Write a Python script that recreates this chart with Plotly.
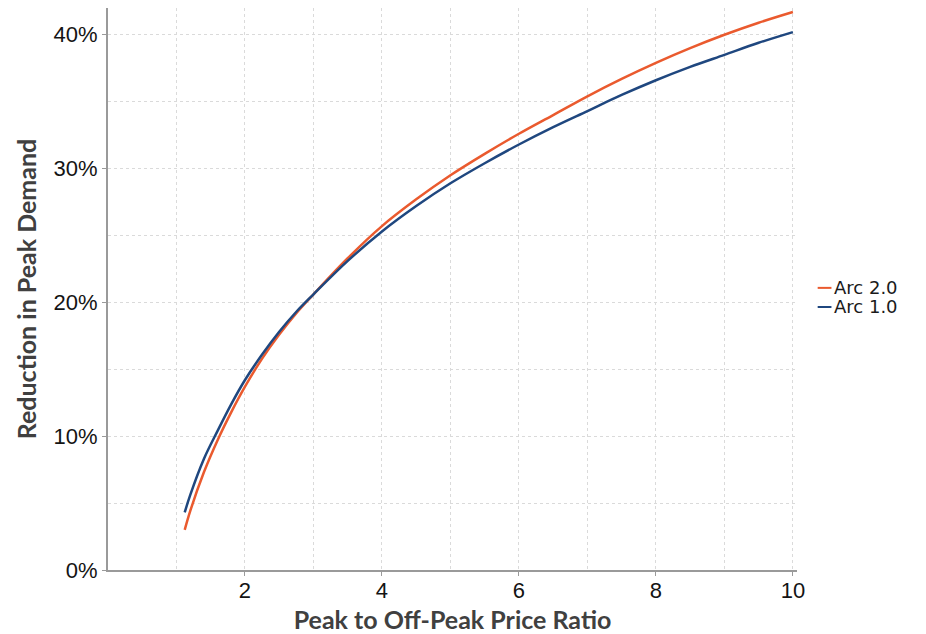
import plotly.graph_objects as go

# Peak-to-off-peak price ratio sampled along each curve
price_ratio = [1.12, 1.2, 1.4, 1.6, 1.8, 2.0, 2.25, 2.5, 2.75, 3.0, 3.5, 4.0,
               4.5, 5.0, 5.5, 6.0, 6.5, 7.0, 7.5, 8.0, 8.5, 9.0, 9.5, 10.0]

# Reduction in peak demand (fraction) for each model version
arc_2_0 = [0.030, 0.044, 0.073, 0.097, 0.118, 0.137, 0.158, 0.176, 0.192, 0.206,
           0.233, 0.257, 0.277, 0.295, 0.311, 0.326, 0.340, 0.354, 0.367, 0.379,
           0.390, 0.400, 0.409, 0.417]
arc_1_0 = [0.043, 0.056, 0.083, 0.104, 0.124, 0.142, 0.161, 0.178, 0.193, 0.206,
           0.231, 0.253, 0.272, 0.289, 0.304, 0.318, 0.331, 0.343, 0.355, 0.366,
           0.376, 0.385, 0.394, 0.402]

series_names = ["Arc 2.0", "Arc 1.0"]
series_values = [arc_2_0, arc_1_0]
series_colors = ["#ea5a2e", "#1f477f"]

x_ticks = [2, 4, 6, 8, 10]
y_ticks = [0, 0.1, 0.2, 0.3, 0.4]
y_tick_labels = ["0%", "10%", "20%", "30%", "40%"]

fig = go.Figure()
for name, vals, col in zip(series_names, series_values, series_colors):
    fig.add_trace(go.Scatter(
        x=price_ratio, y=vals, name=name, mode="lines",
        line=dict(color=col, width=2.5, shape="spline", smoothing=1.0),
        showlegend=False,
    ))

grid_color = "#dadada"
axis_color = "#9a9a9a"
tick_font = dict(family="Liberation Sans, Arial, sans-serif", size=22, color="#141414")
title_font = dict(family="Lato, Open Sans, sans-serif", size=25, color="#404040")

fig.update_xaxes(
    range=[0, 10.06],
    tickvals=x_ticks, ticktext=[str(v) for v in x_ticks],
    tickfont=tick_font, ticklabelstandoff=-4,
    showline=True, linecolor=axis_color, linewidth=2,
    ticks="outside", ticklen=4, tickcolor=axis_color, tickwidth=1,
    showgrid=True, gridcolor=grid_color, griddash="dot", gridwidth=1,
    minor=dict(dtick=1, tick0=0, showgrid=True, gridcolor=grid_color,
               griddash="dot", gridwidth=1, ticks=""),
    zeroline=False,
    title=dict(text="<b>Peak to Off-Peak Price Ratio</b>", font=title_font, standoff=10),
)
fig.update_yaxes(
    range=[0, 0.42],
    tickvals=y_ticks, ticktext=y_tick_labels,
    tickfont=tick_font,
    showline=True, linecolor=axis_color, linewidth=2,
    ticks="outside", ticklen=4, tickcolor=axis_color, tickwidth=1,
    showgrid=True, gridcolor=grid_color, griddash="dot", gridwidth=1,
    minor=dict(dtick=0.05, tick0=0, showgrid=True, gridcolor=grid_color,
               griddash="dot", gridwidth=1, ticks=""),
    zeroline=False,
    title=dict(text="<b>Reduction in Peak Demand</b>", font=title_font, standoff=10),
)

# Compact legend drawn to the right of the plot area
legend_font = dict(family="DejaVu Sans, Arial, sans-serif", size=18, color="#1a1a1a")
legend_y = [0.502, 0.468]
for name, col, ly in zip(series_names, series_colors, legend_y):
    fig.add_shape(type="line", xref="paper", yref="paper",
                  x0=1.030, x1=1.050, y0=ly, y1=ly,
                  line=dict(color=col, width=2))
    fig.add_annotation(xref="paper", yref="paper", x=1.052, y=ly,
                       text=name, showarrow=False, xanchor="left", yanchor="middle",
                       font=legend_font, borderpad=0)

fig.update_layout(
    width=926, height=634,
    margin=dict(l=108, r=129, t=8, b=64, autoexpand=False),
    paper_bgcolor="white", plot_bgcolor="white",
    showlegend=False,
)

fig.write_html("out.html")
